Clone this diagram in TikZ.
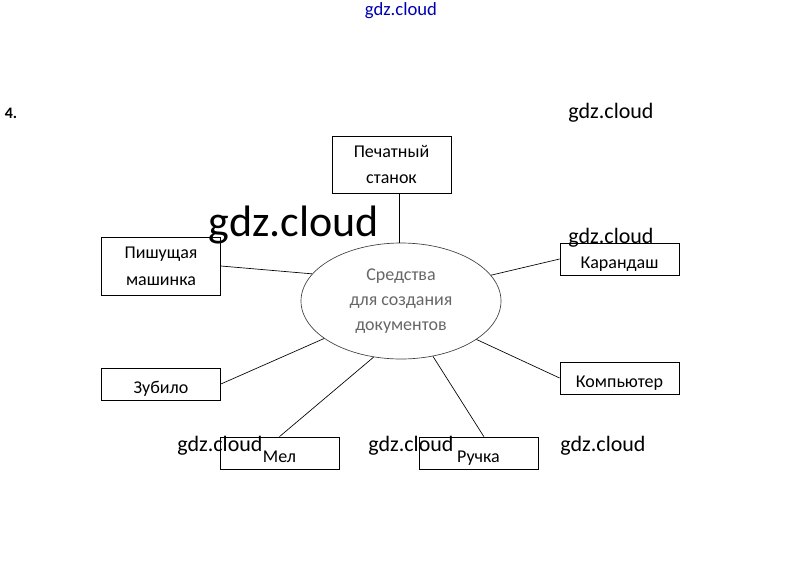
\documentclass[tikz,border=0pt]{standalone}
\usepackage{fontspec}
\setmainfont{Carlito}
\usetikzlibrary{shapes.geometric}

\tikzset{
  bloco/.style={draw, line width=0.6pt, minimum width=89.25pt, minimum height=24pt, inner sep=0pt, align=center, font=\fontsize{13.5}{20}\selectfont},
  linha/.style={bloco, text height=13.5pt, text depth=0pt},
  duaslinhas/.style={bloco, execute at begin node={\rule{0pt}{18.5pt}}},
  centro/.style={draw=black!75, line width=0.5pt, ellipse, minimum width=150pt, minimum height=87pt, inner sep=0pt, align=center, text=black!60, execute at begin node={\rule{0pt}{13pt}}, font=\fontsize{13.5}{19}\selectfont},
  ligacao/.style={line width=0.5pt},
  marca/.style={font=\fontsize{16.5}{18}\selectfont},
}

\begin{document}
\begin{tikzpicture}[x=0.75pt, y=-0.75pt]
% --- AREA DA PAGINA ---
\useasboundingbox (0,0) rectangle (802,582);

% LAYER 1: Elipse central
\node[centro] (sredstva) at (401,301) {Средства\\для создания\\документов};

% LAYER 2: Blocos ao redor
\node[duaslinhas, minimum height=42.75pt] (stanok) at (391.5,164.5) {Печатный\\станок};
\node[duaslinhas, minimum height=43.5pt] (mashinka) at (161,266) {Пишущая\\машинка};
\node[linha] (karandash) at (619.5,259) {Карандаш};
\node[linha] (kompyuter) at (619.5,378) {Компьютер};
\node[linha] (zubilo) at (161,384) {Зубило};
\node[linha, text height=14pt] (mel) at (279.5,453) {Мел};
\node[linha, text height=14pt] (ruchka) at (478.5,453) {Ручка};

% LAYER 3: Ligacoes
\draw[ligacao] (sredstva.92) -- (sredstva.92 |- stanok.south);
\draw[ligacao] (sredstva.163.5) -- (mashinka.east);
\draw[ligacao] (sredstva.16.5) -- (karandash.west);
\draw[ligacao] (sredstva.333) -- (kompyuter.west);
\draw[ligacao] (sredstva.206) -- (zubilo.east);
\draw[ligacao] (sredstva.244) -- (mel.north);
\draw[ligacao] (sredstva.300) -- ([xshift=4pt]ruchka.north);

% LAYER 4: Numero e marcas
\node[font=\bfseries\fontsize{12}{13}\selectfont] (numero) at (11,113) {4.};
\node[marca, text=blue!70!black, font=\fontsize{14}{16}\selectfont] (marcatopo) at (401,11) {gdz.cloud};
\node[marca] (marca1) at (611,113) {gdz.cloud};
\node[marca, font=\fontsize{33}{36}\selectfont] (marca2) at (294,225) {gdz.cloud};
\node[marca] (marca3) at (611,238) {gdz.cloud};
\node[marca] (marca4) at (220,446) {gdz.cloud};
\node[marca] (marca5) at (411,446) {gdz.cloud};
\node[marca] (marca6) at (603,446) {gdz.cloud};
\end{tikzpicture}
\end{document}
